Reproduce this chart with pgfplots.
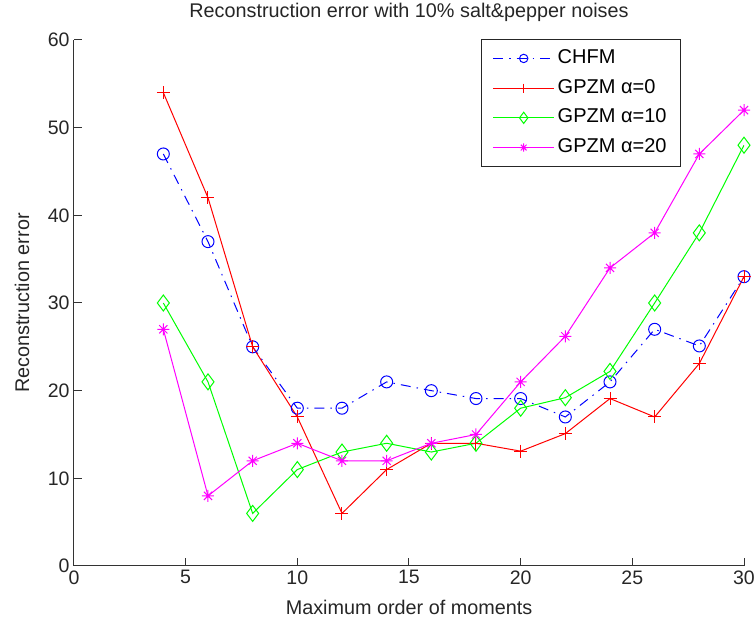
\documentclass[border=0pt]{standalone}
\usepackage{fontspec}
\setmainfont{Liberation Sans}
\usepackage{pgfplots}
\pgfplotsset{compat=1.18}
\pgfdeclareplotmark{mstar}{%
 \pgfpathmoveto{\pgfqpoint{\pgfplotmarksize}{0pt}}\pgfpathlineto{\pgfqpoint{-\pgfplotmarksize}{0pt}}%
 \pgfpathmoveto{\pgfqpoint{0pt}{\pgfplotmarksize}}\pgfpathlineto{\pgfqpoint{0pt}{-\pgfplotmarksize}}%
 \pgfpathmoveto{\pgfqpoint{.68\pgfplotmarksize}{.68\pgfplotmarksize}}\pgfpathlineto{\pgfqpoint{-.68\pgfplotmarksize}{-.68\pgfplotmarksize}}%
 \pgfpathmoveto{\pgfqpoint{-.68\pgfplotmarksize}{.68\pgfplotmarksize}}\pgfpathlineto{\pgfqpoint{.68\pgfplotmarksize}{-.68\pgfplotmarksize}}%
 \pgfusepathqstroke}
\definecolor{mblue}{rgb}{0,0,1}
\definecolor{mred}{rgb}{1,0,0}
\definecolor{mgreen}{rgb}{0,1,0}
\definecolor{mmag}{rgb}{1,0,1}
\begin{document}
\begin{tikzpicture}
\path[use as bounding box] (-74pt,-58pt) rectangle (682pt,566pt);
\begin{axis}[
  scale only axis,
  width=670pt, height=526pt,
  xmin=0, xmax=30, ymin=0, ymax=60,
  xtick={0,5,...,30}, ytick={0,10,...,60},
  axis lines=left,
  axis line style={-, line width=1pt, black!80},
  tick style={line width=1pt, black!80},
  tick align=inside,
  major tick length=8pt,
  /pgf/number format/assume math mode=true,
  tick label style={font=\fontsize{19.5}{21}\selectfont, black!85},
  xticklabel style={yshift=-1pt},
  yticklabel style={xshift=-1pt},
  xlabel={Maximum order of moments},
  ylabel={Reconstruction error},
  title={Reconstruction error with 10\% salt\&pepper noises},
  every axis title shift=0pt,
  label style={font=\fontsize{19.8}{21}\selectfont, black!85},
  title style={font=\fontsize{19.8}{21}\selectfont, black!85, at={(axis description cs:0.5,1.053)}, anchor=center},
  xlabel style={at={(axis description cs:0.5,-0.078)}, anchor=center},
  ylabel style={at={(axis description cs:-0.0776,0.5)}, anchor=center, rotate=0},
  legend style={at={(0.906,1.002)}, anchor=north east, font=\fontsize{20}{21}\selectfont,
    draw=black!85, line width=1pt, inner xsep=11pt, inner ysep=7pt,
    nodes={inner xsep=3pt, inner ysep=3pt, text height=14pt, text depth=4pt}, row sep=5.7pt},
  legend cell align=left,
  legend image code/.code={\draw[line width=1pt, mark repeat=2,mark phase=2, every mark/.append style={scale=0.7}] plot coordinates {(0pt,0pt) (30.5pt,0pt) (61pt,0pt)};},
]
\addplot[mblue, line width=1pt, dash pattern=on 10pt off 6pt on 1.5pt off 6pt, mark=o, mark size=6pt, mark options={solid}] coordinates {
(4,47) (6,37) (8,25) (10,18) (12,18) (14,21) (16,20) (18,19.1) (20,19.1) (22,17) (24,21) (26,27) (28,25.1) (30,33)};
\addlegendentry{CHFM}
\addplot[mred, line width=1pt, mark=+, mark size=6.5pt] coordinates {
(4,54) (6,42) (8,25) (10,17) (12,6) (14,11) (16,14) (18,14) (20,13.1) (22,15.1) (24,19.1) (26,17) (28,23.1) (30,33)};
\addlegendentry{GPZM α=0}
\addplot[mgreen, line width=1pt, mark=diamond, mark size=8pt] coordinates {
(4,30) (6,21) (8,6) (10,11) (12,13) (14,14) (16,13) (18,14) (20,18) (22,19.2) (24,22.2) (26,30) (28,38) (30,48)};
\addlegendentry{GPZM α=10}
\addplot[mmag, line width=1pt, mark=mstar, mark size=6pt] coordinates {
(4,27) (6,8) (8,12) (10,14) (12,12) (14,12) (16,14) (18,15) (20,21) (22,26.2) (24,34) (26,38) (28,47) (30,52)};
\addlegendentry{GPZM α=20}
\end{axis}
\end{tikzpicture}
\end{document}
